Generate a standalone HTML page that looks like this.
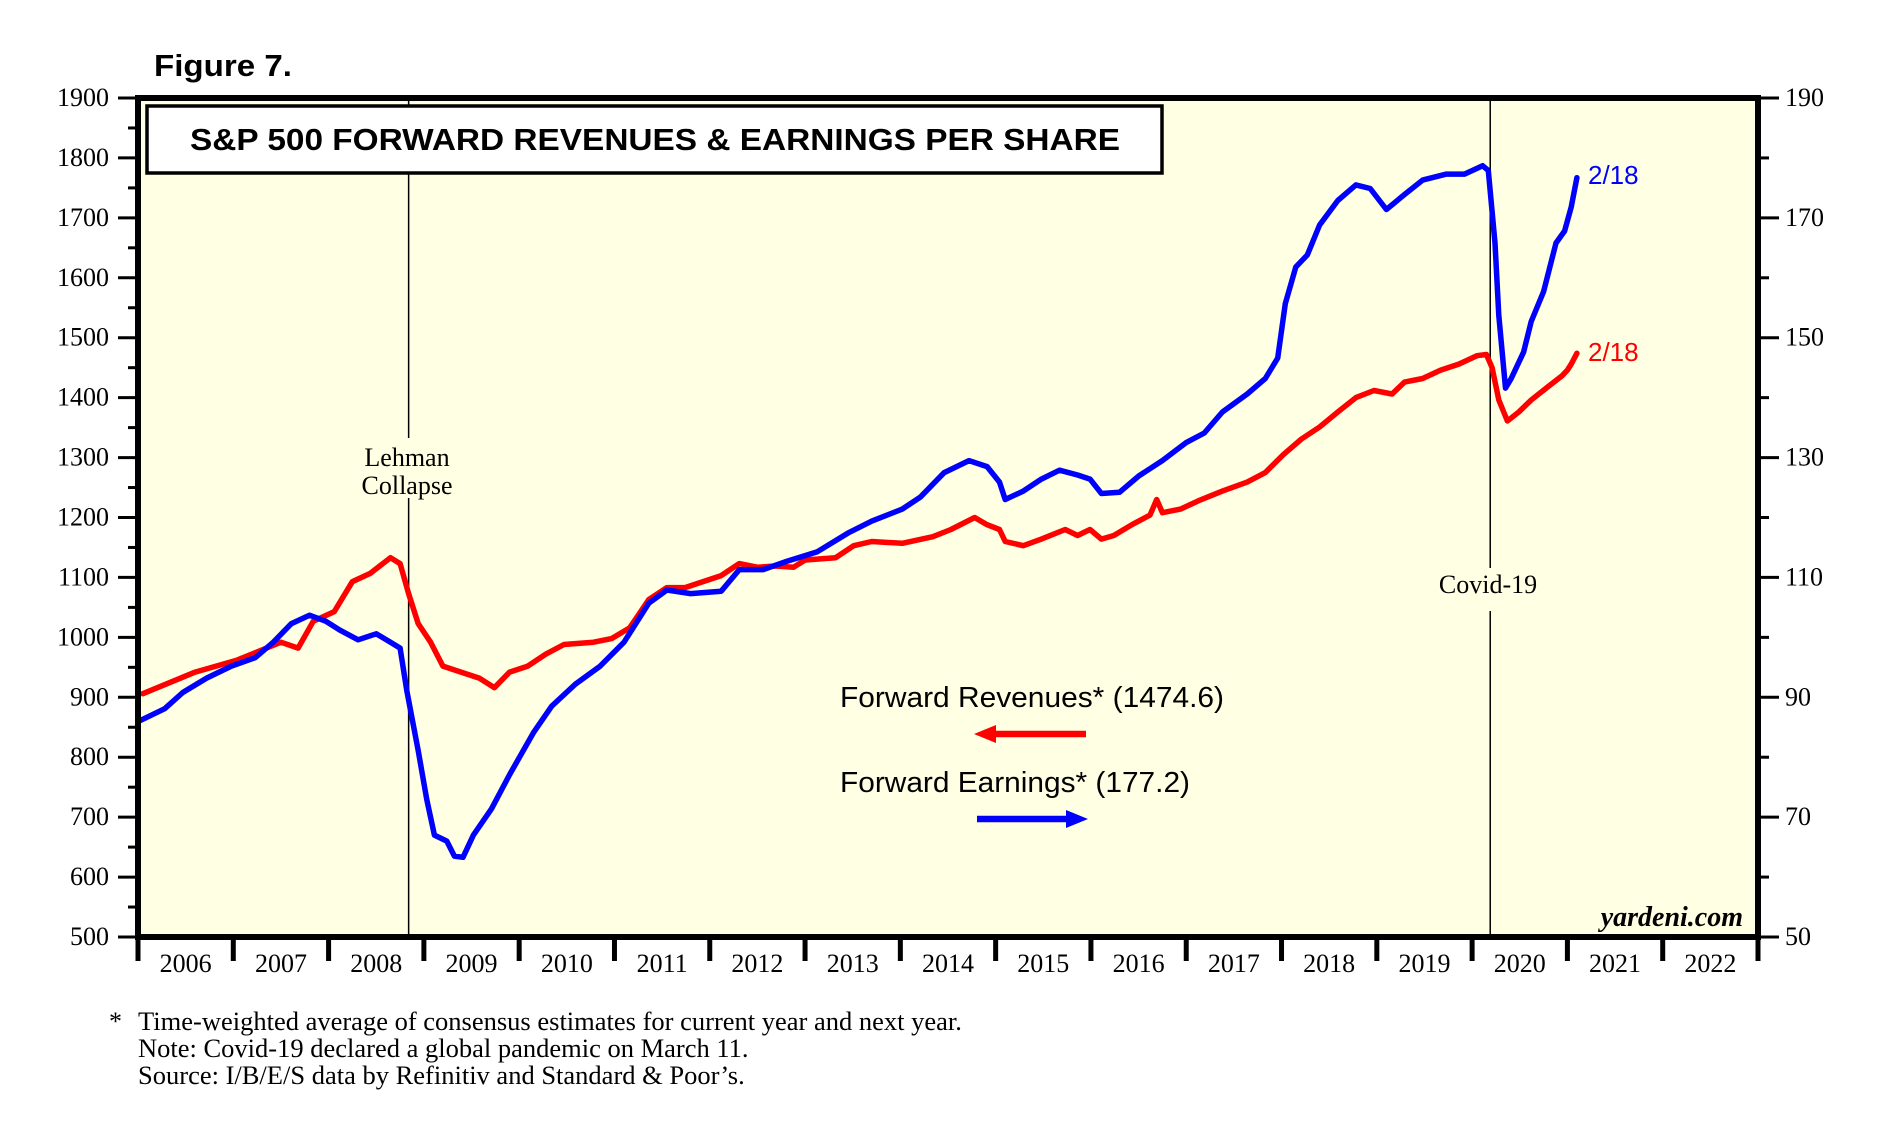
<!DOCTYPE html>
<html><head><meta charset="utf-8"><style>
html,body{margin:0;padding:0;background:#fff}
svg{display:block}
.s{font-family:"Liberation Serif",serif}
.a{font-family:"Liberation Sans",sans-serif}
</style></head><body>
<svg id="c" width="1898" height="1121" viewBox="0 0 1898 1121" xmlns="http://www.w3.org/2000/svg">
<text x="154" y="76" class="a" font-size="31" font-weight="bold" textLength="138" lengthAdjust="spacingAndGlyphs">Figure 7.</text>
<rect x="138" y="98" width="1620" height="839" fill="#FFFFE3"/>
<g id="grid"></g>
<g id="series"></g>
<rect x="147" y="106" width="1015" height="67" fill="#fff" stroke="#000" stroke-width="3.5"/>
<text x="190" y="150" class="a" font-size="31" font-weight="bold" textLength="930" lengthAdjust="spacingAndGlyphs">S&amp;P 500 FORWARD REVENUES &amp; EARNINGS PER SHARE</text>
<rect x="138" y="98" width="1620" height="839" fill="none" stroke="#000" stroke-width="6"/>
<g id="axes"></g>
<text x="407" y="466" class="s" font-size="26" text-anchor="middle">Lehman</text>
<text x="407" y="494" class="s" font-size="26" text-anchor="middle">Collapse</text>
<text x="1488" y="593" class="s" font-size="26" text-anchor="middle">Covid-19</text>
<text x="1743" y="926" class="s" font-size="28" font-style="italic" font-weight="bold" text-anchor="end">yardeni.com</text>
<text x="840" y="707" class="a" font-size="28.5" textLength="384" lengthAdjust="spacingAndGlyphs">Forward Revenues* (1474.6)</text>
<line x1="990" y1="734" x2="1086" y2="734" stroke="#f00" stroke-width="6.5"/>
<polygon points="974,734 996,725 996,743" fill="#f00"/>
<text x="840" y="792" class="a" font-size="28.5" textLength="350" lengthAdjust="spacingAndGlyphs">Forward Earnings* (177.2)</text>
<line x1="977" y1="819" x2="1072" y2="819" stroke="#00f" stroke-width="6.5"/>
<polygon points="1088,819 1066,810 1066,828" fill="#00f"/>
<text x="1588" y="184" class="a" font-size="26" fill="#00f">2/18</text>
<text x="1588" y="361" class="a" font-size="26" fill="#f00">2/18</text>
<text x="109" y="1030" class="s" font-size="26">*</text>
<text x="138" y="1030" class="s" font-size="26.5">Time-weighted average of consensus estimates for current year and next year.</text>
<text x="138" y="1057" class="s" font-size="26.5">Note: Covid-19 declared a global pandemic on March 11.</text>
<text x="138" y="1084" class="s" font-size="26.5">Source: I/B/E/S data by Refinitiv and Standard &amp; Poor’s.</text>
</svg>
<script>
const years=[2006,2007,2008,2009,2010,2011,2012,2013,2014,2015,2016,2017,2018,2019,2020,2021,2022];
const leftTicks=[500,600,700,800,900,1000,1100,1200,1300,1400,1500,1600,1700,1800,1900];
const rightTicks=[50,70,90,110,130,150,170,190];
const eventDates=[2008.84,2020.19];
const revT=[2006.05,2006.6,2007.04,2007.5,2007.68,2007.84,2008.06,2008.25,2008.44,2008.65,2008.75,2008.84,2008.94,2009.07,2009.2,2009.39,2009.58,2009.74,2009.9,2010.09,2010.28,2010.47,2010.78,2010.97,2011.16,2011.36,2011.55,2011.74,2011.93,2012.12,2012.31,2012.5,2012.69,2012.88,2013.0,2013.32,2013.51,2013.7,2014.02,2014.34,2014.53,2014.78,2014.91,2015.04,2015.1,2015.29,2015.48,2015.73,2015.86,2015.99,2016.11,2016.24,2016.43,2016.62,2016.69,2016.75,2016.94,2017.13,2017.38,2017.64,2017.83,2018.02,2018.21,2018.4,2018.59,2018.78,2018.97,2019.16,2019.29,2019.48,2019.67,2019.86,2020.05,2020.15,2020.21,2020.28,2020.37,2020.49,2020.62,2020.81,2020.94,2021.0,2021.04,2021.1];
const revV=[906,942,962,992,982,1027,1043,1093,1107,1133,1123,1073,1023,992,952,942,932,916,942,952,972,988,992,998,1016,1063,1083,1083,1093,1103,1123,1117,1119,1117,1129,1133,1153,1160,1157,1168,1180,1200,1188,1180,1160,1153,1164,1180,1170,1180,1164,1170,1188,1204,1230,1208,1214,1228,1244,1259,1275,1305,1331,1351,1376,1400,1412,1406,1426,1432,1446,1456,1470,1472,1450,1396,1361,1376,1396,1420,1436,1446,1456,1474];
const epsT=[2006.02,2006.28,2006.47,2006.72,2006.98,2007.23,2007.42,2007.61,2007.8,2007.97,2008.12,2008.31,2008.5,2008.65,2008.75,2008.82,2008.94,2009.03,2009.11,2009.24,2009.32,2009.41,2009.52,2009.71,2009.9,2010.15,2010.34,2010.59,2010.85,2011.1,2011.36,2011.55,2011.8,2012.12,2012.31,2012.56,2012.81,2013.13,2013.45,2013.7,2014.02,2014.21,2014.46,2014.72,2014.91,2015.04,2015.1,2015.29,2015.48,2015.67,2015.86,2015.99,2016.11,2016.3,2016.5,2016.75,2017.0,2017.19,2017.38,2017.64,2017.83,2017.96,2018.04,2018.15,2018.27,2018.4,2018.59,2018.78,2018.93,2019.1,2019.29,2019.48,2019.73,2019.92,2020.11,2020.17,2020.24,2020.28,2020.35,2020.41,2020.54,2020.62,2020.75,2020.88,2020.97,2021.04,2021.1];
const epsV=[86.1,88.1,90.8,93.2,95.2,96.6,99.2,102.3,103.7,102.7,101.2,99.6,100.6,99.2,98.2,91.2,81.1,73.0,67.0,66.0,63.5,63.3,67.0,71.4,77.1,84.1,88.5,92.2,95.2,99.2,105.7,107.9,107.3,107.7,111.3,111.3,112.7,114.3,117.4,119.4,121.4,123.4,127.5,129.5,128.5,125.9,123.0,124.4,126.4,127.9,127.1,126.4,124.0,124.2,126.9,129.5,132.5,134.1,137.6,140.6,143.2,146.6,155.7,161.8,163.8,168.8,172.9,175.5,174.9,171.4,173.9,176.3,177.3,177.3,178.7,177.9,165.8,153.7,141.6,143.2,147.6,152.7,157.7,165.8,167.8,171.8,176.7];
const X0=138,X1=1758,Y0=937,Y1=98;
const xS=t=>X0+(t-2006)*(X1-X0)/17;
const yL=v=>Y0-(v-500)*(Y0-Y1)/1400;
const yR=v=>Y0-(v-50)*(Y0-Y1)/140;
const NS='http://www.w3.org/2000/svg';
function mk(tag,attrs,parent){const e=document.createElementNS(NS,tag);for(const k in attrs)e.setAttribute(k,attrs[k]);parent.appendChild(e);return e;}
const grid=document.getElementById('grid'),ser=document.getElementById('series'),ax=document.getElementById('axes');
const gaps=[[438,498],[568,611]];
eventDates.forEach((d,i)=>{const x=xS(d);const g=gaps[i];
 let l=mk('line',{x1:x,y1:Y1,x2:x,y2:g[0],stroke:'#000','stroke-width':1.5},grid);
 
 
 l=mk('line',{x1:x,y1:g[1],x2:x,y2:Y0,stroke:'#000','stroke-width':1.5},grid);
 
 
});
function path(T,V,f,col,name){let d='';T.forEach((t,i)=>{d+=(i?'L':'M')+xS(t).toFixed(1)+','+f(V[i]).toFixed(1);});
 const p=mk('path',{d:d,fill:'none',stroke:col,'stroke-width':5.5,'stroke-linejoin':'round','stroke-linecap':'round'},ser);
 
 }
path(revT,revV,yL,'#f00','revenues-line');
path(epsT,epsV,yR,'#00f','earnings-line');
leftTicks.forEach(v=>{const y=yL(v);
 const l=mk('line',{x1:118,y1:y,x2:X0,y2:y,stroke:'#000','stroke-width':3},ax);
 
 
 if(v<1900){const m=mk('line',{x1:128,y1:yL(v+50),x2:X0,y2:yL(v+50),stroke:'#000','stroke-width':3},ax);
  
  }
 const t=mk('text',{x:109,y:y+8,'font-size':26,'text-anchor':'end','class':'s'},ax);t.textContent=v;
 
 
});
rightTicks.forEach(v=>{const y=yR(v);
 const l=mk('line',{x1:X1,y1:y,x2:1779,y2:y,stroke:'#000','stroke-width':3},ax);
 
 
 if(v<190){const m=mk('line',{x1:X1,y1:yR(v+10),x2:1769,y2:yR(v+10),stroke:'#000','stroke-width':3},ax);
  
  }
 const t=mk('text',{x:1785,y:y+8,'font-size':26,'class':'s'},ax);t.textContent=v;
 
 
});
for(let i=0;i<=years.length;i++){const x=xS(2006+i);
 const l=mk('line',{x1:x,y1:Y0,x2:x,y2:961,stroke:'#000','stroke-width':5},ax);
 
 }
years.forEach(yv=>{const t=mk('text',{x:xS(yv+0.5),y:972,'font-size':26,'text-anchor':'middle','class':'s'},ax);t.textContent=yv;
 
 });
</script>
</body></html>
